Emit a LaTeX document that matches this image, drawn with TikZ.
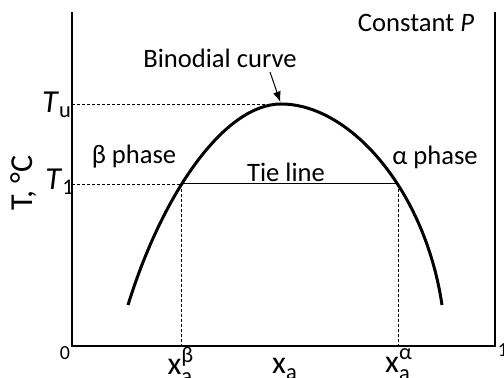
\documentclass[tikz,border=0pt]{standalone}
\usepackage{amsmath}
\usepackage{fontspec}
\setmainfont{Carlito}
\usepackage{tikz}
\usetikzlibrary{arrows.meta,calc}

\begin{document}
\begin{tikzpicture}[x=0.5pt,y=-0.5pt,>=Latex,
  lbl/.style={font=\fontsize{13.3}{16}\selectfont,inner sep=1pt},
  big/.style={font=\fontsize{16}{19}\selectfont,inner sep=1pt},
  tick/.style={font=\fontsize{10}{12}\selectfont,inner sep=1pt},
  guide/.style={line width=0.4pt,dash pattern=on 1.5pt off 1pt}]
  \useasboundingbox (0,0) rectangle (504,378);
  % frame
  \coordinate (o) at (72,346);
  \coordinate (ytop) at (72,12);
  \coordinate (xend) at (495,346);
  \coordinate (rtop) at (495,12);
  \draw[line width=0.8pt] (ytop) -- (o) -- (xend) -- (rtop);
  % binodial
  \coordinate (top) at (281,104);
  \coordinate (tb) at (181,184);
  \coordinate (ta) at (398,184);
  \draw[line width=1.5pt] (128,305) .. controls (163,192) and (225,104) .. (top)
    .. controls (350,104) and (425,190) .. (442,305);
  \draw[guide] (o |- top) -- (top);
  \draw[guide] (o |- tb) -- (tb);
  \draw[guide] (tb) -- (tb |- o);
  \draw[guide] (ta) -- (ta |- o);
  \draw[line width=0.5pt] (tb) -- (ta);
  % labels
  \node[lbl] (bin) at (220,58) {Binodial curve};
  \coordinate (tail) at (270,72);
  \draw[->,line width=0.5pt,shorten >=1pt] (tail) -- (top);
  \node[lbl] (cst) at (416,23) {Constant \textit{P}};
  \node[lbl] (bph) at (134,157) {β phase};
  \node[lbl] (aph) at (435,157) {α phase};
  \node[lbl] (tie) at (286,172) {Tie line};
  \node[big] (tu) at (57,105) {\textit{T}\textsubscript{u}};
  \node[big] (t1) at (60,182) {\textit{T}\textsubscript{1}};
  \node[big,rotate=90] (ylab) at (24,183) {T, °C};
  \node[tick] (zero) at (65,353) {0};
  \node[tick] (one) at (503,350) {1};
  \node[big] (xb) at (181,365) {$\text{x}_{\text{a}}^{\text{β}}$};
  \node[big] (xa) at (285,369) {$\text{x}_{\text{a}}$};
  \node[big] (xal) at (399,365) {$\text{x}_{\text{a}}^{\text{α}}$};
\end{tikzpicture}
\end{document}
